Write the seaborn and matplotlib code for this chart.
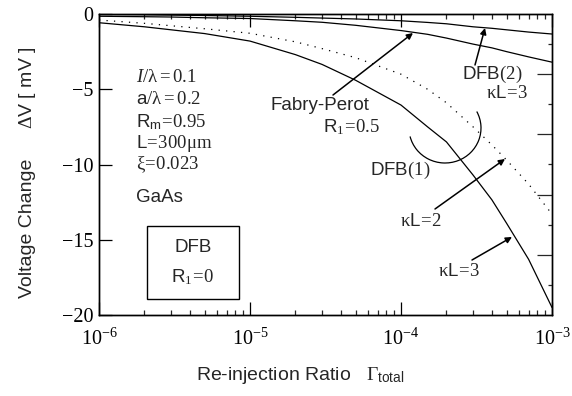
import matplotlib
matplotlib.use("Agg")
import matplotlib.pyplot as plt
import seaborn as sns
import pandas as pd
from matplotlib.patches import Arc, Rectangle
from matplotlib.ticker import LogLocator, NullLocator, NullFormatter

# ---------------- data ----------------
gamma = [1e-6, 2e-6, 3e-6, 5e-6, 1e-5, 2e-5, 3e-5, 5e-5, 1e-4, 1.5e-4, 2e-4,
         3e-4, 4e-4, 5e-4, 7e-4, 1e-3]
dfb2_kl3 = [-0.03, -0.05, -0.07, -0.10, -0.15, -0.22, -0.27, -0.33, -0.45, -0.56,
            -0.65, -0.85, -0.95, -1.05, -1.20, -1.33]
fabry_perot = [-0.15, -0.18, -0.20, -0.25, -0.30, -0.45, -0.55, -0.75, -1.10, -1.35,
               -1.60, -2.00, -2.25, -2.50, -2.85, -3.20]
dfb1_kl2 = [-0.40, -0.62, -0.78, -0.98, -1.28, -1.85, -2.30, -2.90, -4.00, -5.00,
            -5.90, -7.50, -8.70, -9.70, -11.30, -13.30]
dfb1_kl3 = [-0.58, -0.85, -1.05, -1.30, -1.80, -2.70, -3.35, -4.40, -6.05, -7.50,
            -8.50, -10.70, -12.35, -13.90, -16.30, -19.50]

x_ticks = [1e-6, 1e-5, 1e-4, 1e-3]
x_tick_labels = [r"$10^{-6}$", r"$10^{-5}$", r"$10^{-4}$", r"$10^{-3}$"]
y_ticks = [0, -5, -10, -15, -20]
y_tick_labels = ["0", "\u22125", "\u221210", "\u221215", "\u221220"]
right_major = [-4, -8, -12, -16]
right_minor = [-2, -6, -10, -14, -18]

# ---------------- style ----------------
sns.set_theme(style="white")
plt.rcParams["font.family"] = ["Liberation Sans", "DejaVu Sans"]
plt.rcParams["mathtext.fontset"] = "custom"
plt.rcParams["mathtext.rm"] = "Liberation Serif"
plt.rcParams["mathtext.it"] = "Liberation Serif:italic"
plt.rcParams["mathtext.bf"] = "Liberation Serif:bold"
plt.rcParams["mathtext.sf"] = "Liberation Sans"
plt.rcParams["axes.unicode_minus"] = True

fig = plt.figure(figsize=(5.72, 3.96), dpi=100)
AX_L, AX_R, AX_T, AX_B = 99, 552, 14, 315
W, H = 572, 396
ax = fig.add_axes([AX_L / W, 1 - AX_B / H, (AX_R - AX_L) / W, (AX_B - AX_T) / H])


def af(px, py):
    return ((px - AX_L) / (AX_R - AX_L), (AX_B - py) / (AX_B - AX_T))


series = [
    (dfb2_kl3, "-"),
    (fabry_perot, "-"),
    (dfb1_kl2, (0, (1, 5))),
    (dfb1_kl3, "-"),
]
for vals, ls in series:
    df = pd.DataFrame({"gamma": gamma, "dv": vals})
    sns.lineplot(data=df, x="gamma", y="dv", color="black", lw=0.9,
                 linestyle=ls, ax=ax, legend=False)

ax.set_xscale("log")
ax.set_xlim(1e-6, 1e-3)
ax.set_ylim(-20, 0)
ax.set_xlabel("")
ax.set_ylabel("")

for s in ax.spines.values():
    s.set_color("black")
    s.set_linewidth(1.0)

ax.set_xticks(x_ticks)
ax.set_xticklabels(x_tick_labels, fontsize=14.5)
ax.xaxis.set_minor_locator(LogLocator(base=10, subs=range(2, 10)))
ax.xaxis.set_minor_formatter(NullFormatter())
ax.set_yticks(y_ticks)
ax.set_yticklabels(y_tick_labels, fontsize=14.5, family="Liberation Serif")
ax.yaxis.set_minor_locator(NullLocator())
ax.tick_params(axis="x", which="major", direction="in", length=9.5, width=0.9,
               top=True, bottom=True, pad=9, colors="black")
ax.tick_params(axis="x", which="minor", direction="in", length=3.5, width=0.9,
               top=True, bottom=True)
ax.tick_params(axis="y", which="major", direction="in", length=9.5, width=0.9,
               left=True, right=False, pad=4, colors="black")

ax2 = ax.twinx()
ax2.set_ylim(-20, 0)
ax2.set_yticks(right_major)
ax2.set_yticks(right_minor, minor=True)
ax2.tick_params(axis="y", which="major", direction="in", length=11, width=0.9,
                labelright=False, right=True)
ax2.tick_params(axis="y", which="minor", direction="in", length=3, width=0.9,
                right=True)
ax2.yaxis.set_minor_formatter(NullFormatter())
for s in ax2.spines.values():
    s.set_color("black")
    s.set_linewidth(1.0)

# ---------------- axis labels ----------------
fig.text(300 / W, 1 - 375 / H, r"Re-injection Ratio   $\Gamma_{\mathsf{total}}$",
         ha="center", va="center", fontsize=14)
fig.text(28 / W, 1 - 228 / H, "Voltage Change", rotation=90,
         ha="center", va="center", fontsize=14)
fig.text(28 / W, 1 - 88 / H, r"$\Delta\mathsf{V}$ [ mV ]", rotation=90,
         ha="center", va="center", fontsize=14)

# ---------------- annotations ----------------
TA = ax.transAxes
fs = 13.5
params = [
    (r"$I/\mathrm{\lambda} = 0.1$", 77),
    (r"$\mathsf{a}/\mathrm{\lambda} = 0.2$", 100),
    (r"$\mathsf{R}_{\mathsf{m}}\!=\!0.95$", 122),
    (r"$\mathsf{L}\!=\!300\mathrm{\mu m}$", 143),
    (r"$\mathrm{\xi}\!=\!0.023$", 165),
    ("GaAs", 197),
]
for txt, py in params:
    ax.text(*af(136, py), txt, transform=TA, ha="left", va="center", fontsize=fs)

x0, y0 = af(147, 299)
x1, y1 = af(239, 226)
ax.add_patch(Rectangle((x0, y0), x1 - x0, y1 - y0, transform=TA, fill=False,
                       edgecolor="black", lw=1.0))
ax.text(*af(193, 247), "DFB", transform=TA, ha="center", va="center", fontsize=fs)
ax.text(*af(192, 277), r"$\mathsf{R}_1\!=\!0$", transform=TA, ha="center",
        va="center", fontsize=fs)

ax.text(*af(320, 106), "Fabry-Perot", transform=TA, ha="center", va="center", fontsize=fs)
ax.text(*af(351, 127), r"$\mathsf{R}_1\!=\!0.5$", transform=TA, ha="center",
        va="center", fontsize=fs)
ax.text(*af(492, 74), r"DFB$(2)$", transform=TA, ha="center", va="center", fontsize=fs)
ax.text(*af(507, 93), r"$\mathrm{\kappa}\mathsf{L}\!=\!3$", transform=TA,
        ha="center", va="center", fontsize=fs)
ax.text(*af(400, 170), r"DFB$(1)$", transform=TA, ha="center", va="center", fontsize=fs)
ax.text(*af(421, 222), r"$\mathrm{\kappa}\mathsf{L}\!=\!2$", transform=TA,
        ha="center", va="center", fontsize=fs)
ax.text(*af(459, 271), r"$\mathrm{\kappa}\mathsf{L}\!=\!3$", transform=TA,
        ha="center", va="center", fontsize=fs)

arrows = [((333, 95), (413, 33)), ((475, 65), (485, 28)),
          ((435, 209), (505, 159)), ((472, 260), (512, 237))]
for (tx, ty), (hx, hy) in arrows:
    ax.annotate("", xy=af(hx, hy), xycoords=TA, xytext=af(tx, ty), textcoords=TA,
                arrowprops=dict(arrowstyle="-|>", color="black", lw=1.1,
                                mutation_scale=9, shrinkA=0, shrinkB=0))

cx, cy = af(445, 128)
ax.add_patch(Arc((cx, cy), 72 / (AX_R - AX_L), 70 / (AX_B - AX_T), transform=TA,
                 theta1=-160, theta2=38, color="black", lw=0.9))

fig.savefig("out.png", dpi=100)
